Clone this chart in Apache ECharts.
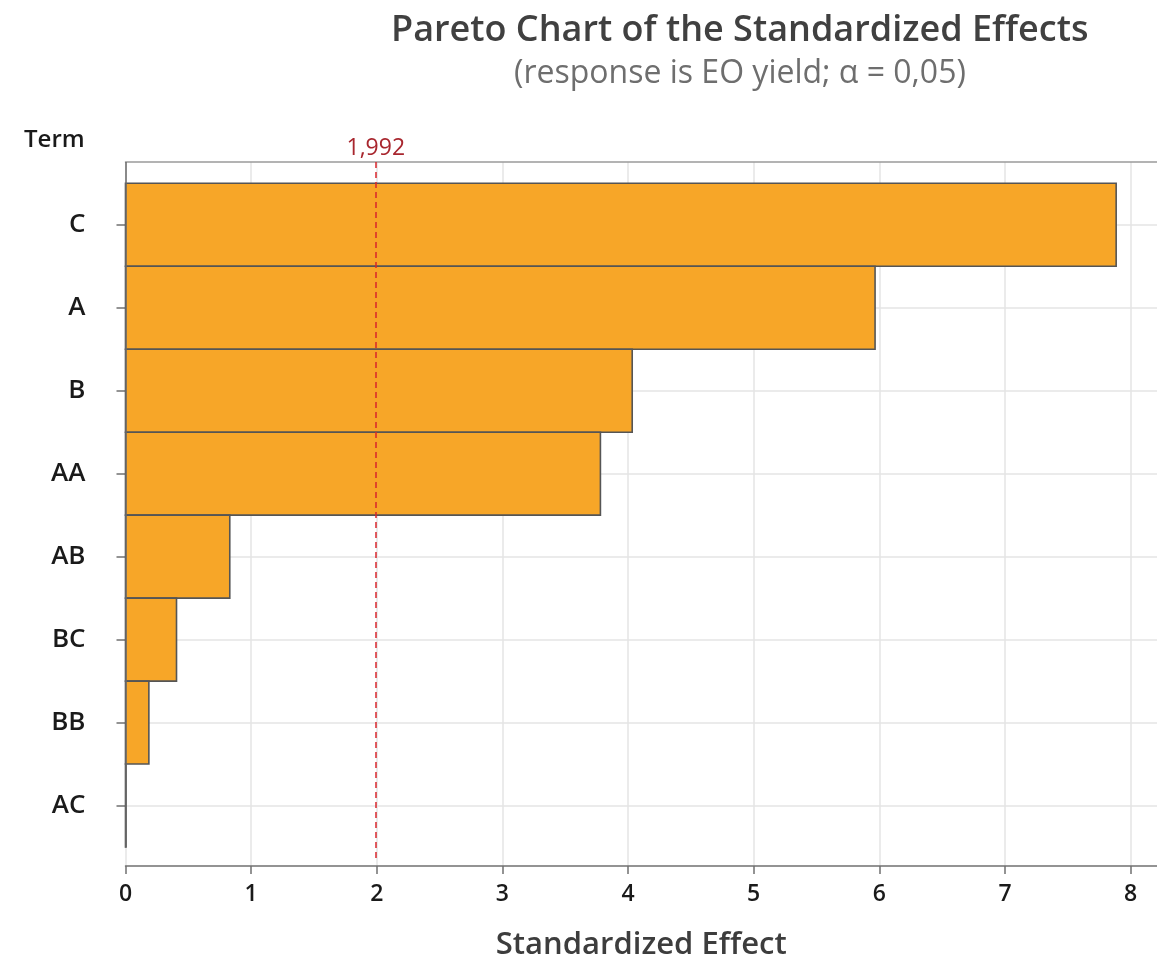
<!DOCTYPE html>
<html>
<head>
<meta charset="utf-8">
<script src="https://cdn.jsdelivr.net/npm/echarts@6/dist/echarts.min.js"></script>
<style>
html,body{margin:0;padding:0;background:#fff;}
#chart{width:1157px;height:958px;}
</style>
</head>
<body>
<div id="chart"></div>
<script>
// ---- data ----
const categories = ['C', 'A', 'B', 'AA', 'AB', 'BC', 'BB', 'AC'];
const effects = [7.885, 5.966, 4.033, 3.78, 0.83, 0.406, 0.186, 0.004];
const criticalValue = 1.992;
const criticalLabel = '1,992';
const xTickValues = [0, 1, 2, 3, 4, 5, 6, 7, 8];

const titleText = 'Pareto Chart of the Standardized Effects';
const subtitleText = '(response is EO yield; \u03b1 = 0,05)';
const yAxisTitle = 'Term';
const xAxisTitle = 'Standardized Effect';

// ---- chart ----
const FONT = '"Open Sans", "Noto Sans", sans-serif';
const xMax = 8.21;
const yMin = -0.757, yMax = 7.729, yBandEnd = categories.length - 0.5;
const catIdx = categories.map((c, i) => i);
const barData = effects.map((v, i) => [v, i]);

const chart = echarts.init(document.getElementById('chart'), null, {renderer: 'canvas'});

const option = {
  backgroundColor: '#ffffff',
  animation: false,
  title: [
    {text: titleText, left: 386, top: 8,
     textStyle: {fontFamily: FONT, fontSize: 36, fontWeight: 600, color: '#404040'}},
    {text: subtitleText, left: 509, top: 53,
     textStyle: {fontFamily: FONT, fontSize: 32, fontWeight: 'normal', color: '#6e6e6e'}},
    {text: yAxisTitle, left: 19, top: 123,
     textStyle: {fontFamily: FONT, fontSize: 24, fontWeight: 600, color: '#1a1a1a'}}
  ],
  grid: {left: 125.5, top: 162, right: 0, bottom: 92, containLabel: false, outerBoundsMode: 'none'},
  xAxis: [
    {
      type: 'value', position: 'bottom', min: 0, max: xMax, interval: 1,
      name: xAxisTitle, nameLocation: 'middle', nameGap: 64,
      nameTextStyle: {fontFamily: FONT, fontSize: 31, fontWeight: 600, color: '#3d3d3d'},
      axisLine: {show: true, onZero: false, lineStyle: {color: '#707070', width: 1.5}},
      axisTick: {show: true, length: 8, inside: false, customValues: xTickValues,
                 lineStyle: {color: '#707070', width: 1.5}},
      axisLabel: {show: true, customValues: xTickValues, margin: 17, fontFamily: FONT,
                  fontSize: 23, fontWeight: 600, color: '#1a1a1a'},
      splitLine: {show: true, lineStyle: {color: '#e5e5e5', width: 1.5}}
    },
    {
      type: 'value', position: 'top', min: 0, max: xMax,
      axisLine: {show: true, onZero: false, lineStyle: {color: '#9a9a9a', width: 1.5}},
      axisTick: {show: false}, axisLabel: {show: false}, splitLine: {show: false}
    }
  ],
  yAxis: {
    type: 'value', inverse: true, min: yMin, max: yMax,
    axisLine: {show: false, onZero: false},
    axisTick: {show: true, length: 9, customValues: catIdx,
               lineStyle: {color: '#707070', width: 1.5}},
    axisLabel: {show: true, customValues: catIdx, margin: 40,
                formatter: v => categories[Math.round(v)] || '',
                fontFamily: FONT, fontSize: 26, fontWeight: 600, color: '#1a1a1a'},
    splitLine: {show: true, lineStyle: {color: '#e5e5e5', width: 1.5}}
  },
  series: [
    {
      type: 'custom',
      xAxisIndex: 0, yAxisIndex: 0,
      data: barData,
      encode: {x: 0, y: 1},
      renderItem: function (params, api) {
        const v = api.value(0), i = api.value(1);
        const p0 = api.coord([0, i - 0.5]);
        const p1 = api.coord([v, i + 0.5]);
        return {
          type: 'rect',
          shape: {x: p0[0], y: Math.min(p0[1], p1[1]),
                  width: Math.max(p1[0] - p0[0], 0.5), height: Math.abs(p1[1] - p0[1])},
          style: {fill: '#f7a628', stroke: '#555555', lineWidth: 1.6}
        };
      },
      z: 3,
      markLine: {
        silent: true, symbol: 'none', animation: false,
        data: [
          [
            {coord: [criticalValue, yMin],
             lineStyle: {color: '#d9262c', width: 1.5, type: [6, 4]},
             label: {show: true, position: 'start', formatter: criticalLabel, distance: 2,
                     fontFamily: FONT, fontSize: 23, color: '#a8262e'}},
            {coord: [criticalValue, 7.66]}
          ],
          [
            {coord: [0, yMin], lineStyle: {color: '#6a6a6a', width: 1.5, type: 'solid'},
             label: {show: false}},
            {coord: [0, yBandEnd]}
          ]
        ]
      }
    }
  ]
};
chart.setOption(option);
</script>
</body>
</html>
